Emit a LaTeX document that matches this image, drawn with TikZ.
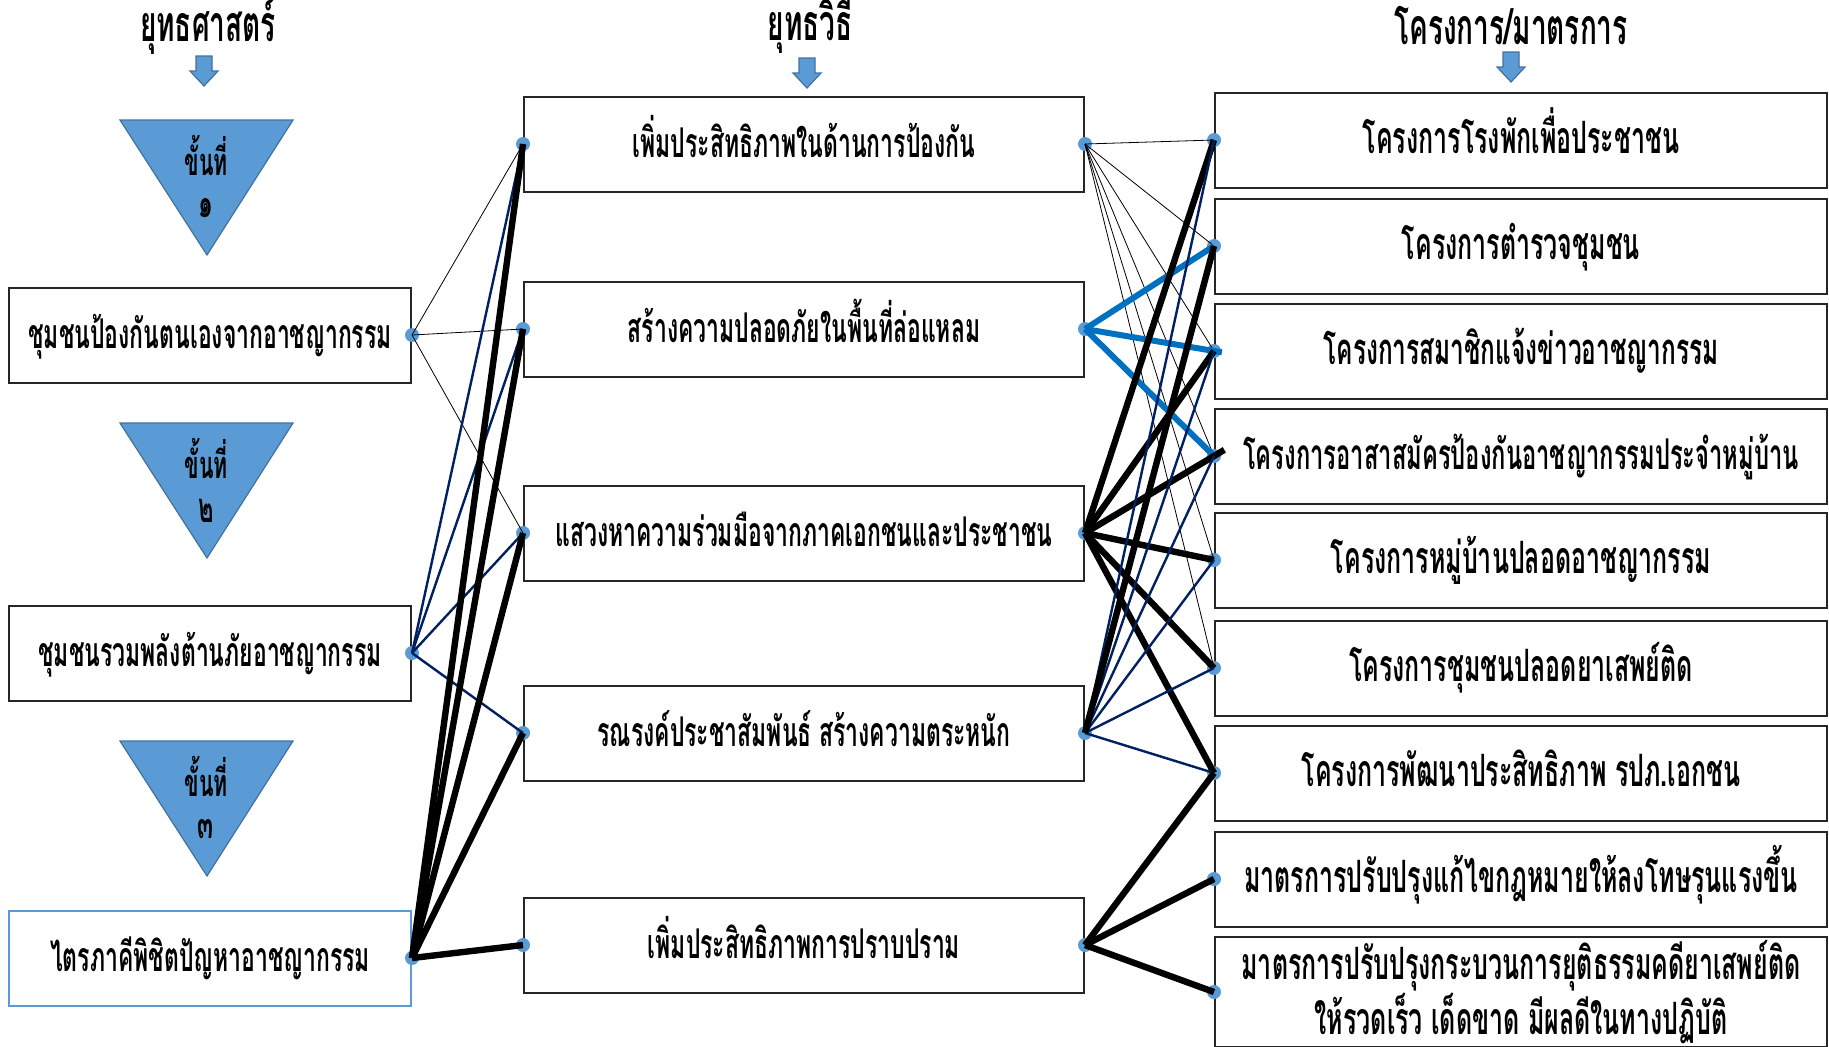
\documentclass[tikz,border=0pt]{standalone}
\usepackage{fontspec}
\newfontfamily\thaifont[Script=Thai,FakeStretch=0.56]{Loma}
\definecolor{stepblue}{HTML}{5B9BD5}
\definecolor{stepedge}{HTML}{41719C}
\definecolor{navylink}{HTML}{002060}
\definecolor{skylink}{HTML}{0070C0}
\tikzset{
  head/.style={font=\thaifont\bfseries\fontsize{25}{28}\selectfont, inner sep=0pt},
  box/.style={draw=black!85, line width=1pt, fill=white, inner sep=0pt,
    text height=16pt, text depth=3pt, align=center,
    font=\thaifont\bfseries\fontsize{20.5}{25}\selectfont},
  lbox/.style={box, minimum width=201pt, minimum height=47.5pt},
  mbox/.style={box, minimum width=280pt, minimum height=47.5pt},
  rbox/.style={box, minimum width=306pt, minimum height=47.5pt,
    font=\thaifont\bfseries\fontsize{22.3}{25}\selectfont},
  stepfill/.style={fill=stepblue, draw=stepedge, line width=0.6pt},
  thinlink/.style={black, line width=0.4pt},
  navy/.style={navylink, line width=1.2pt},
  sky/.style={skylink, line width=3pt},
  heavy/.style={black, line width=3.2pt},
  joint/.style={circle, fill=stepblue, inner sep=0pt, minimum size=7pt}
}
\begin{document}
\begin{tikzpicture}[x=0.5pt, y=-0.5pt]
  \useasboundingbox (0,0) rectangle (1829,1046);
  % column headings and their arrows
  \node[head] (hStrat) at (208,26) {ยุทธศาสตร์};
  \node[head] (hTact) at (810,26) {ยุทธวิธี};
  \node[head] (hProj) at (1511,26) {โครงการ/มาตรการ};
  \foreach \x/\y in {204/56, 807/58, 1511/52}
    \filldraw[stepfill] (\x-8,\y) -- (\x+8,\y) -- (\x+8,\y+15) -- (\x+14,\y+15)
      -- (\x,\y+30) -- (\x-14,\y+15) -- (\x-8,\y+15) -- cycle;
  % steps 1..3
  \foreach \y/\d in {120/๑, 423/๒, 741/๓}{
    \filldraw[stepfill] (120,\y) -- (293,\y) -- (207,\y+135) -- cycle;
    \node[font=\thaifont\bfseries\fontsize{19}{22}\selectfont] (s\y) at (206,\y+35) {ขั้นที่};
    \node[font=\thaifont\bfseries\fontsize{21}{22}\selectfont] (n\y) at (206,\y+88) {\d};
  }
  % strategies (left)
  \node[lbox] (L1) at (210,335) {ชุมชนป้องกันตนเองจากอาชญากรรม};
  \node[lbox] (L2) at (210,653) {ชุมชนรวมพลังต้านภัยอาชญากรรม};
  \node[lbox, draw=stepblue] (L3) at (210,958) {ไตรภาคีพิชิตปัญหาอาชญากรรม};
  % tactics (middle)
  \node[mbox] (M1) at (804,144) {เพิ่มประสิทธิภาพในด้านการป้องกัน};
  \node[mbox] (M2) at (804,329) {สร้างความปลอดภัยในพื้นที่ล่อแหลม};
  \node[mbox] (M3) at (804,533) {แสวงหาความร่วมมือจากภาคเอกชนและประชาชน};
  \node[mbox] (M4) at (804,733) {รณรงค์ประชาสัมพันธ์ สร้างความตระหนัก};
  \node[mbox] (M5) at (804,945) {เพิ่มประสิทธิภาพการปราบปราม};
  % projects / measures (right)
  \node[rbox] (R1) at (1521,140) {โครงการโรงพักเพื่อประชาชน};
  \node[rbox] (R2) at (1521,246) {โครงการตำรวจชุมชน};
  \node[rbox, font=\thaifont\bfseries\fontsize{21.8}{25}\selectfont] (R3) at (1521,351) {โครงการสมาชิกแจ้งข่าวอาชญากรรม};
  \node[rbox, font=\thaifont\bfseries\fontsize{21.2}{25}\selectfont] (R4) at (1521,456) {โครงการอาสาสมัครป้องกันอาชญากรรมประจำหมู่บ้าน};
  \node[rbox] (R5) at (1521,560) {โครงการหมู่บ้านปลอดอาชญากรรม};
  \node[rbox] (R6) at (1521,668) {โครงการชุมชนปลอดยาเสพย์ติด};
  \node[rbox] (R7) at (1521,773) {โครงการพัฒนาประสิทธิภาพ รปภ.เอกชน};
  \node[rbox] (R8) at (1521,879) {มาตรการปรับปรุงแก้ไขกฎหมายให้ลงโทษรุนแรงขึ้น};
  \node[rbox, minimum height=55pt, text height=, text depth=] (R9) at (1521,992)
    {มาตรการปรับปรุงกระบวนการยุติธรรมคดียาเสพย์ติด\\ให้รวดเร็ว เด็ดขาด มีผลดีในทางปฏิบัติ};
  % joints
  \foreach \n in {L1,L2,L3} \node[joint] (j\n) at (\n.east) {};
  \foreach \n in {1,...,5} {\node[joint] (jwM\n) at (M\n.west) {}; \node[joint] (jeM\n) at (M\n.east) {};}
  \foreach \n in {1,...,9} \node[joint] (jR\n) at (R\n.west) {};
  % strategy -> tactic links
  \foreach \t in {1,2,3} \draw[thinlink] (L1.east) -- (M\t.west);
  \foreach \t in {1,2,3,4} \draw[navy] (L2.east) -- (M\t.west);
  \foreach \t in {1,...,5} \draw[heavy] (L3.east) -- (M\t.west);
  % tactic -> project links
  \foreach \t in {1,...,6} \draw[thinlink] (M1.east) -- (R\t.west);
  \foreach \t in {2,4} \draw[sky] (M2.east) -- (R\t.west);
  \draw[sky, shorten >=-4pt] (M2.east) -- (R3.west);
  \foreach \t in {1,3,5,6,7} \draw[heavy] (M3.east) -- (R\t.west);
  \draw[heavy, shorten >=-6pt] (M3.east) -- (R4.west);
  \foreach \t in {1,3,4,5,6,7} \draw[navy] (M4.east) -- (R\t.west);
  \draw[heavy] (M4.east) -- (R2.west);
  \foreach \t in {7,8,9} \draw[heavy] (M5.east) -- (R\t.west);
\end{tikzpicture}
\end{document}
